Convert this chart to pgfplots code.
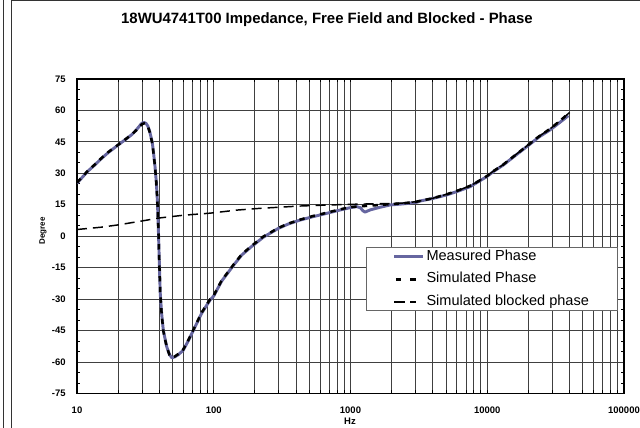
\documentclass[border=0pt]{standalone}
\usepackage{fontspec}
\setmainfont{Liberation Sans}
\usepackage{pgfplots}
\pgfplotsset{compat=1.18}
\definecolor{meas}{RGB}{102,102,160}
\begin{document}
\begin{tikzpicture}
\useasboundingbox (0,0) rectangle (480pt,321pt);
\draw[line width=1.1pt,black!80] (2.5pt,0) -- (2.5pt,321pt);
\draw[line width=1.1pt,black!80] (8.5pt,0) -- (8.5pt,320.5pt) -- (480pt,320.5pt);
\begin{axis}[
  at={(57.75pt,25.875pt)}, anchor=south west,
  scale only axis, width=410.25pt, height=235.9pt,
  xmode=log, xmin=10, xmax=100000,
  ymin=-75, ymax=75,
  xtick={10,100,1000,10000,100000},
  xticklabels={10,100,1000,10000,100000},
  ytick={-75,-60,...,75},
  minor y tick num=2,
  xmajorgrids=true, xminorgrids=true, ymajorgrids=true,
  major grid style={black!75, line width=0.75pt},
  minor grid style={black!75, line width=0.75pt},
  axis line style={black, line width=1.1pt},
  tick style={black, line width=0.75pt},
  minor tick length=2.5pt, major tick length=0pt,
  tick align=inside,
  /pgf/number format/assume math mode=true,
  ticklabel style={font=\fontsize{7.1}{8}\bfseries\selectfont},
  yticklabel style={xshift=-5pt},
  xticklabel style={yshift=-6.3pt},
  title={18WU4741T00 Impedance, Free Field and Blocked - Phase},
  title style={at={(axis description cs:0.457,1.162)}, anchor=center, font=\fontsize{11.2}{13}\bfseries\selectfont},
  xlabel={Hz},
  xlabel style={at={(axis description cs:0.499,-0.0874)}, anchor=center, font=\fontsize{7.1}{8}\bfseries\selectfont},
  ylabel={Degree},
  ylabel style={at={(axis description cs:-0.0622,0.517)}, anchor=center, rotate=0, font=\fontsize{6}{7}\bfseries\selectfont},
  legend style={at={(axis description cs:0.528,0.472)}, anchor=north west,
    xshift=0pt, yshift=-1.5pt,
    draw=black!60, line width=0.75pt, fill=white,
    font=\fontsize{10.9}{12}\selectfont,
    inner xsep=20pt, inner ysep=0.8pt, row sep=4.4pt,
    nodes={inner sep=1.2pt, text height=7.8pt, text depth=2.2pt}},
  legend cell align=left,
  legend image code/.code={\draw[#1] (0pt,0pt) -- (21.75pt,0pt);},
]
\addplot[meas, line width=2.2pt, line join=round] coordinates {
(10,25.3) (11,28.3) (12,31) (13.5,34) (15,36.9) (17,40) (20,43.5) (23,46.5) (25,48.3) (27,50.5) (29,53) (30,54) (31,54.2) (32,53.8) (33,52.5) (34,50) (35,46.5) (35.6,44.3) (36.4,39) (37.2,33.2) (38,26) (38.7,17.3) (39.3,5) (39.7,-5) (40.1,-15) (40.6,-27) (41.6,-37) (42.8,-45) (45.3,-52.7) (47.5,-56.5) (49.5,-58) (52,-57.5) (55,-56.5) (59.6,-54.5) (65,-50) (71.3,-44.6) (81.6,-36.7) (94,-30.4) (100,-28.5) (114,-21.5) (139,-14) (160,-9) (186,-5.3) (230,-0.5) (298,3.8) (350,5.8) (428,7.7) (530,9.3) (670,10.9) (838,12.5) (991,13.6) (1110,14.1) (1180,13.6) (1230,12.2) (1276,11.5) (1330,12) (1400,12.6) (1644,13.8) (1945,14.9) (2500,15.5) (3050,16.2) (3230,16.8) (4000,18) (5050,19.7) (6000,21.3) (7480,23.6) (8500,25.8) (9910,28.4) (11070,30.8) (13000,33.8) (15000,37) (19450,42.7) (24000,47.4) (28800,50.7) (34000,54.3) (39200,57.5)
};
\addlegendentry{Measured Phase}
\addplot[black, line width=1.9pt, dash pattern=on 4pt off 4pt,
  legend image post style={dash pattern=on 4.2pt off 6.5pt, dash phase=-1pt}] coordinates {
(10,25.6) (11,28.5) (12,31.2) (13.5,34.2) (15,37.1) (17,40.2) (20,43.6) (23,46.6) (25,48.4) (27,50.4) (29,52.6) (30,53.5) (31,53.8) (32,53.4) (33,52.2) (34,49.8) (35,46.2) (35.6,44) (36.4,38.8) (37.2,33) (38,25.8) (38.7,17) (39.3,4.8) (39.7,-5.2) (40.1,-15.2) (40.6,-27.2) (41.6,-37.2) (42.8,-45.2) (45.3,-52.9) (47.5,-56.6) (49.5,-57.8) (52,-57.3) (55,-56.2) (59.6,-54.2) (65,-49.7) (71.3,-44.3) (81.6,-36.4) (94,-30.1) (100,-28.2) (114,-21.2) (139,-13.7) (160,-8.7) (186,-5) (230,-0.2) (298,4) (350,6) (428,7.9) (530,9.6) (670,11.2) (838,12.8) (1000,13.9) (1200,14.3) (1400,14.6) (1644,14.9) (1945,15.3) (2500,15.8) (3050,16.5) (4000,18.1) (5050,20) (6000,21.6) (7480,24) (8500,26) (9910,28.6) (11070,31) (13000,34) (15000,37.2) (19450,43) (24000,47.7) (28800,51.2) (34000,55) (40000,59)
};
\addlegendentry{Simulated Phase}
\addplot[black, line width=1.1pt, dash pattern=on 7.5pt off 4.5pt,
  legend image post style={line width=1.3pt, dash pattern=on 8pt off 3.8pt on 4.5pt off 10pt}] coordinates {
(10,3.2) (15,4.3) (20,5.4) (30,7.3) (40,8.7) (60,10) (94,11) (150,12.5) (218,13.3) (428,14.4) (700,14.9) (1000,15.2) (1550,15.5) (2000,15.5) (2500,15.9) (3050,16.5) (4000,18.1) (5050,20) (6000,21.6) (7480,24) (8500,26) (9910,28.6) (11070,31) (13000,34) (15000,37.2) (19450,43) (24000,47.7) (28800,51.2) (34000,55) (40000,59)
};
\addlegendentry{Simulated blocked phase}
\end{axis}
\end{tikzpicture}
\end{document}
